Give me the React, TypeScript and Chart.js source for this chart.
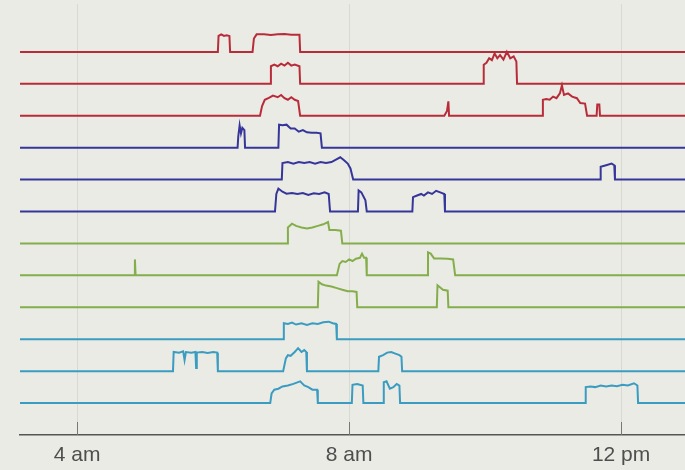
import React, { useEffect, useRef } from "react";
import { Chart, registerables } from "chart.js";
Chart.register(...registerables);

// x axis: hours of the day
const tickHours = [4, 8, 12];
const tickLabels = ["4 am", "8 am", "12 pm"];
const startHour = 3.16;
const endHour = 12.94;

// each trace: [hour, activity level above its own baseline]
const red1: [number, number][] = [
  [6.07, 0], [6.08, 0.5], [6.12, 0.55], [6.16, 0.5], [6.2, 0.52], [6.24, 0.5], [6.25, 0],
  [6.58, 0], [6.6, 0.42], [6.64, 0.55], [6.75, 0.55], [6.85, 0.53], [6.95, 0.55], [7.05, 0.56], [7.15, 0.54], [7.27, 0.54], [7.28, 0],
];
const red2: [number, number][] = [
  [6.84, 0], [6.85, 0.55], [6.9, 0.6], [6.95, 0.55], [7.0, 0.63], [7.05, 0.57], [7.1, 0.66], [7.15, 0.57], [7.2, 0.6], [7.27, 0.55], [7.28, 0],
  [9.97, 0], [9.98, 0.6], [10.02, 0.66], [10.06, 0.8], [10.1, 0.74], [10.14, 0.95], [10.18, 0.8], [10.22, 0.9], [10.27, 0.76], [10.32, 1.0], [10.37, 0.8], [10.42, 0.86], [10.46, 0.7], [10.47, 0],
];
const red3: [number, number][] = [
  [6.69, 0], [6.72, 0.3], [6.76, 0.5], [6.82, 0.56], [6.88, 0.63], [6.95, 0.58], [7.0, 0.65], [7.05, 0.55], [7.1, 0.5], [7.15, 0.58], [7.2, 0.5], [7.25, 0.46], [7.28, 0],
  [9.4, 0], [9.44, 0.15], [9.46, 0.45], [9.47, 0],
  [10.84, 0], [10.85, 0.5], [10.9, 0.52], [10.95, 0.5], [11.0, 0.6], [11.05, 0.55], [11.1, 0.7], [11.13, 0.95], [11.16, 0.65], [11.22, 0.7], [11.28, 0.6], [11.35, 0.55], [11.4, 0.4], [11.47, 0.38], [11.5, 0],
  [11.64, 0], [11.65, 0.35], [11.68, 0.35], [11.69, 0],
];
const blue1: [number, number][] = [
  [6.36, 0], [6.37, 0.35], [6.39, 0.7], [6.41, 0.45], [6.43, 0.62], [6.46, 0.55], [6.47, 0],
  [6.96, 0], [6.97, 0.72], [7.02, 0.7], [7.08, 0.72], [7.14, 0.6], [7.2, 0.6], [7.26, 0.5], [7.32, 0.55], [7.38, 0.48], [7.45, 0.47], [7.52, 0.47], [7.58, 0.45], [7.6, 0],
];
const blue2: [number, number][] = [
  [7.01, 0], [7.02, 0.52], [7.1, 0.55], [7.18, 0.5], [7.26, 0.55], [7.34, 0.52], [7.42, 0.55], [7.5, 0.5], [7.58, 0.55], [7.66, 0.52], [7.74, 0.55], [7.8, 0.62], [7.87, 0.7], [7.93, 0.6], [7.98, 0.5], [8.02, 0.35], [8.06, 0],
  [11.69, 0], [11.7, 0.4], [11.78, 0.45], [11.86, 0.5], [11.9, 0.45], [11.91, 0],
];
const blue3: [number, number][] = [
  [6.91, 0], [6.93, 0.55], [6.96, 0.72], [7.02, 0.62], [7.08, 0.56], [7.16, 0.58], [7.24, 0.55], [7.32, 0.58], [7.4, 0.52], [7.48, 0.57], [7.56, 0.55], [7.64, 0.6], [7.7, 0.55], [7.72, 0],
  [8.13, 0], [8.14, 0.66], [8.18, 0.6], [8.24, 0.35], [8.26, 0],
  [8.93, 0], [8.94, 0.45], [9.0, 0.5], [9.06, 0.55], [9.1, 0.5], [9.16, 0.6], [9.22, 0.55], [9.28, 0.65], [9.34, 0.6], [9.4, 0.55], [9.41, 0],
];
const green1: [number, number][] = [
  [7.09, 0], [7.1, 0.5], [7.16, 0.62], [7.22, 0.55], [7.3, 0.5], [7.38, 0.47], [7.46, 0.5], [7.54, 0.55], [7.62, 0.6], [7.69, 0.67], [7.71, 0.42], [7.8, 0.42], [7.88, 0.4], [7.9, 0],
];
const green2: [number, number][] = [
  [4.84, 0], [4.85, 0.5], [4.86, 0],
  [7.82, 0], [7.86, 0.36], [7.9, 0.45], [7.95, 0.42], [8.0, 0.5], [8.05, 0.45], [8.1, 0.52], [8.16, 0.55], [8.19, 0.68], [8.22, 0.55], [8.25, 0.55], [8.26, 0],
  [9.15, 0], [9.16, 0.72], [9.2, 0.68], [9.25, 0.53], [9.35, 0.53], [9.45, 0.52], [9.53, 0.5], [9.56, 0],
];
const green3: [number, number][] = [
  [7.54, 0], [7.55, 0.8], [7.6, 0.72], [7.66, 0.68], [7.74, 0.65], [7.82, 0.6], [7.9, 0.55], [7.98, 0.5], [8.05, 0.5], [8.11, 0.48], [8.12, 0],
  [9.29, 0], [9.3, 0.69], [9.34, 0.62], [9.38, 0.55], [9.45, 0.52], [9.46, 0],
];
const cyan1: [number, number][] = [
  [7.03, 0], [7.04, 0.5], [7.1, 0.48], [7.16, 0.52], [7.22, 0.46], [7.3, 0.5], [7.38, 0.45], [7.46, 0.5], [7.54, 0.48], [7.62, 0.53], [7.7, 0.55], [7.76, 0.5], [7.81, 0.48], [7.82, 0],
];
const cyan2: [number, number][] = [
  [5.41, 0], [5.42, 0.6], [5.5, 0.58], [5.56, 0.62], [5.58, 0.35], [5.6, 0.6], [5.68, 0.58], [5.74, 0.6], [5.75, 0.1], [5.76, 0.58], [5.84, 0.6], [5.92, 0.57], [6.0, 0.6], [6.06, 0.58], [6.07, 0],
  [7.03, 0], [7.07, 0.4], [7.1, 0.5], [7.14, 0.48], [7.2, 0.6], [7.25, 0.72], [7.3, 0.6], [7.34, 0.66], [7.37, 0.6], [7.38, 0],
  [8.43, 0], [8.44, 0.45], [8.5, 0.5], [8.56, 0.58], [8.62, 0.6], [8.68, 0.55], [8.74, 0.5], [8.77, 0.45], [8.78, 0],
];
const cyan3: [number, number][] = [
  [6.84, 0], [6.86, 0.3], [6.9, 0.42], [6.96, 0.45], [7.02, 0.52], [7.1, 0.55], [7.18, 0.6], [7.24, 0.65], [7.28, 0.68], [7.34, 0.55], [7.4, 0.5], [7.46, 0.42], [7.53, 0.42], [7.54, 0],
  [8.04, 0], [8.05, 0.57], [8.12, 0.6], [8.2, 0.55], [8.21, 0],
  [8.5, 0], [8.51, 0.65], [8.55, 0.68], [8.6, 0.45], [8.65, 0.5], [8.7, 0.6], [8.74, 0.55], [8.75, 0],
  [11.47, 0], [11.48, 0.5], [11.55, 0.52], [11.62, 0.5], [11.7, 0.55], [11.78, 0.52], [11.86, 0.55], [11.94, 0.53], [12.02, 0.57], [12.1, 0.55], [12.19, 0.62], [12.24, 0.55], [12.25, 0],
];

const traces = [red1, red2, red3, blue1, blue2, blue3, green1, green2, green3, cyan1, cyan2, cyan3];
const traceColors = [
  "#b82c3a", "#b82c3a", "#b82c3a",
  "#36369a", "#36369a", "#36369a",
  "#84ae4c", "#84ae4c", "#84ae4c",
  "#3a9cc0", "#3a9cc0", "#3a9cc0",
];

const innerTicks = {
  id: "innerTicks",
  afterDraw(chart: any) {
    const { ctx, chartArea } = chart;
    const x = chart.scales.x;
    ctx.save();
    ctx.strokeStyle = "#777";
    ctx.lineWidth = 1;
    tickHours.forEach((h) => {
      const px = Math.round(x.getPixelForValue(h)) + 0.5;
      ctx.beginPath();
      ctx.moveTo(px, chartArea.bottom);
      ctx.lineTo(px, chartArea.bottom - 13);
      ctx.stroke();
    });
    ctx.restore();
  },
};

export default function App() {
  const ref = useRef<HTMLCanvasElement | null>(null);
  useEffect(() => {
    if (!ref.current) return;
    const n = traces.length;
    const datasets = traces.map((pts, i) => {
      const base = n - i;
      return {
        label: "trace " + (i + 1),
        data: [
          { x: startHour, y: base },
          ...pts.map(([h, l]) => ({ x: h, y: base + l })),
          { x: endHour, y: base },
        ],
        borderColor: traceColors[i],
        borderWidth: 2,
        pointRadius: 0,
        tension: 0,
        fill: false,
      };
    });
    const chart = new Chart(ref.current, {
      type: "line",
      data: { datasets },
      plugins: [innerTicks],
      options: {
        animation: false,
        responsive: false,
        maintainAspectRatio: false,
        layout: { padding: { left: 20, right: 0, top: 4, bottom: 0 } },
        plugins: { legend: { display: false }, tooltip: { enabled: false } },
        scales: {
          x: {
            type: "linear",
            min: startHour,
            max: endHour,
            afterBuildTicks: (scale: any) => {
              scale.ticks = tickHours.map((v) => ({ value: v }));
            },
            afterFit: (scale: any) => {
              scale.height = 35;
            },
            ticks: {
              padding: 8,
              color: "#4e4e4e",
              font: { family: "Liberation Sans, Arial, sans-serif", size: 21 },
              callback: (v: any) => {
                const i = tickHours.indexOf(Number(v));
                return i >= 0 ? tickLabels[i] : "";
              },
            },
            grid: { color: "#d9d9d3", lineWidth: 1, drawTicks: false },
            border: { color: "#555", width: 1.6 },
          },
          y: {
            type: "linear",
            display: false,
            min: 0,
            max: 13.5,
          },
        },
      },
    });
    return () => chart.destroy();
  }, []);
  return (
    <div style={{ position: "fixed", left: 0, top: 0, width: 685, height: 470, background: "#ebebe5" }}>
      <canvas ref={ref} width={685} height={470} style={{ display: "block" }} />
    </div>
  );
}
